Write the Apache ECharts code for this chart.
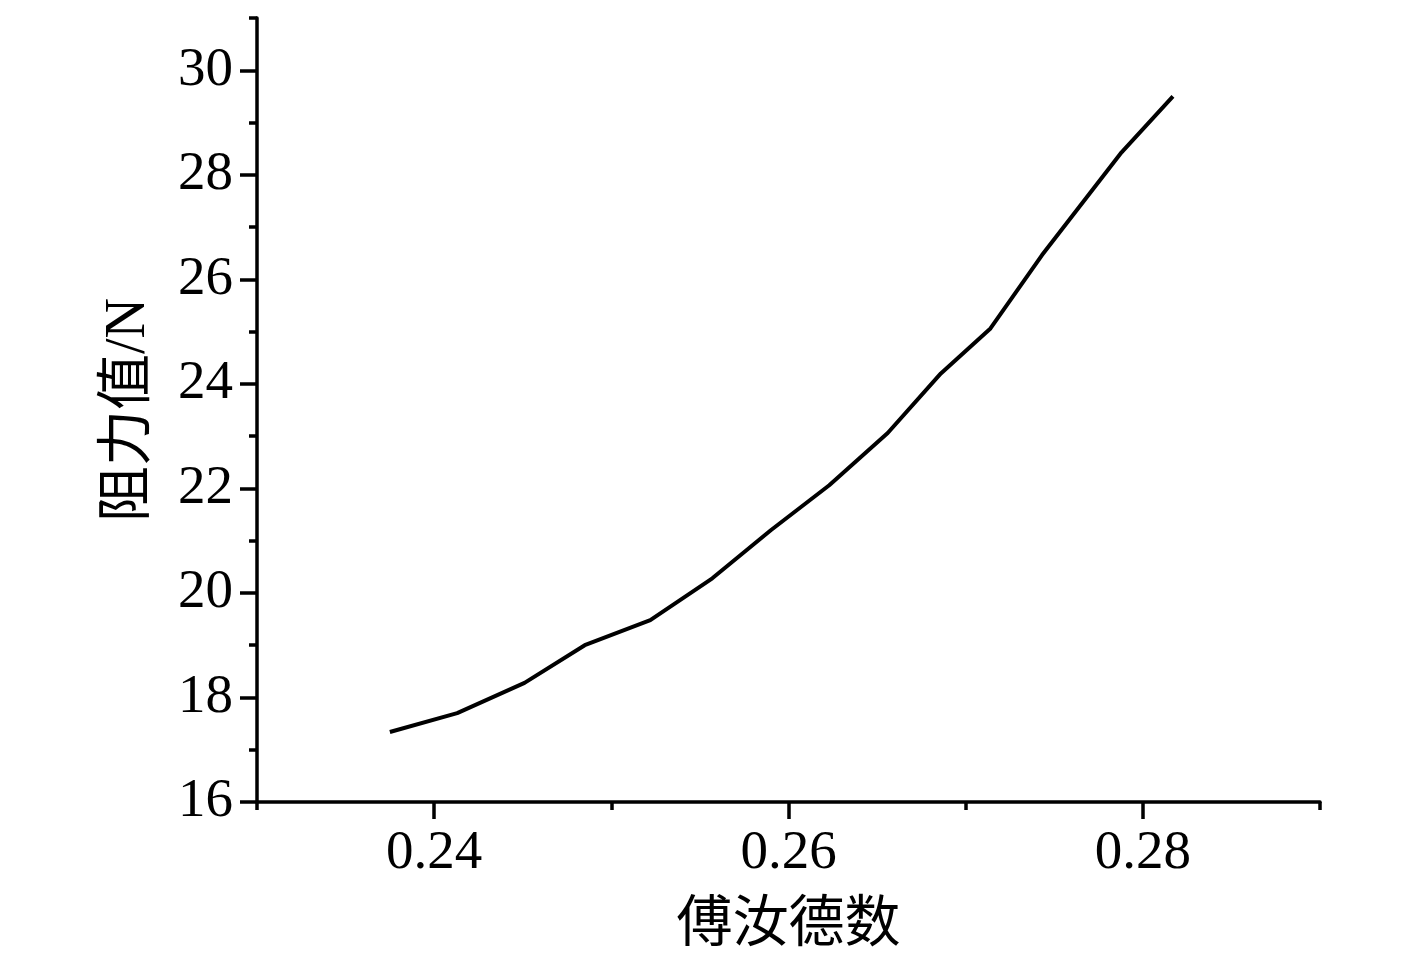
<!DOCTYPE html>
<html>
<head>
<meta charset="utf-8">
<title>阻力值-傅汝德数</title>
<script src="https://cdn.jsdelivr.net/npm/echarts@6/dist/echarts.min.js"></script>
<style>
  html, body { margin: 0; padding: 0; background: #fff; }
  #chart { width: 1417px; height: 967px; }
</style>
</head>
<body>
<div id="chart"></div>
<script>
// 傅汝德数
var froudeNum = [0.2375, 0.2413, 0.2451, 0.2485, 0.2522, 0.2557, 0.2590,
  0.2623, 0.2656, 0.2686, 0.2714, 0.2743, 0.2788, 0.2817];
// 阻力值 (N)
var resistance = [17.34, 17.70, 18.28, 19.00, 19.48, 20.28, 21.20,
  22.06, 23.06, 24.20, 25.06, 26.46, 28.43, 29.50];

// 刻度
var xMajorTicks = [0.24, 0.26, 0.28];
var xMinorTicks = [0.23, 0.25, 0.27, 0.29];
var yMajorTicks = [16, 18, 20, 22, 24, 26, 28, 30];
var yMinorTicks = [17, 19, 21, 23, 25, 27, 29, 31];

var chart = echarts.init(document.getElementById('chart'));

var fontFam = '"Liberation Serif", "Noto Sans CJK SC", serif';
var lineStyle = { color: '#000', width: 3.5 };

var option = {
  animation: false,
  grid: { left: 257, right: 97, top: 18, bottom: 165 },
  xAxis: [
    {
      type: 'value',
      min: 0.23,
      max: 0.29,
      name: '傅汝德数',
      nameLocation: 'middle',
      nameGap: 96,
      nameTextStyle: { fontFamily: fontFam, fontSize: 56, color: '#000' },
      axisLine: { show: true, lineStyle: lineStyle },
      axisTick: { show: true, length: 17, lineStyle: lineStyle, customValues: xMajorTicks },
      axisLabel: {
        fontFamily: fontFam, fontSize: 55, color: '#000', margin: 24,
        customValues: xMajorTicks,
        formatter: function (v) { return v.toFixed(2); }
      },
      splitLine: { show: false }
    },
    {
      type: 'value',
      min: 0.23,
      max: 0.29,
      position: 'bottom',
      axisLine: { show: false },
      axisTick: { show: true, length: 8, lineStyle: lineStyle, customValues: xMinorTicks },
      axisLabel: { show: false },
      splitLine: { show: false }
    }
  ],
  yAxis: [
    {
      type: 'value',
      min: 16,
      max: 31,
      name: '阻力值/N',
      nameLocation: 'middle',
      nameGap: 100,
      nameTextStyle: { fontFamily: fontFam, fontSize: 56, color: '#000' },
      axisLine: { show: true, lineStyle: lineStyle },
      axisTick: { show: true, length: 17, lineStyle: lineStyle, customValues: yMajorTicks },
      axisLabel: {
        fontFamily: fontFam, fontSize: 55, color: '#000', margin: 24,
        customValues: yMajorTicks
      },
      splitLine: { show: false }
    },
    {
      type: 'value',
      min: 16,
      max: 31,
      position: 'left',
      axisLine: { show: false },
      axisTick: { show: true, length: 8, lineStyle: lineStyle, customValues: yMinorTicks },
      axisLabel: { show: false },
      splitLine: { show: false }
    }
  ],
  series: [
    {
      type: 'line',
      xAxisIndex: 0,
      yAxisIndex: 0,
      showSymbol: false,
      lineStyle: { color: '#000', width: 4 },
      data: froudeNum.map(function (x, i) { return [x, resistance[i]]; })
    }
  ]
};

chart.setOption(option);
</script>
</body>
</html>
